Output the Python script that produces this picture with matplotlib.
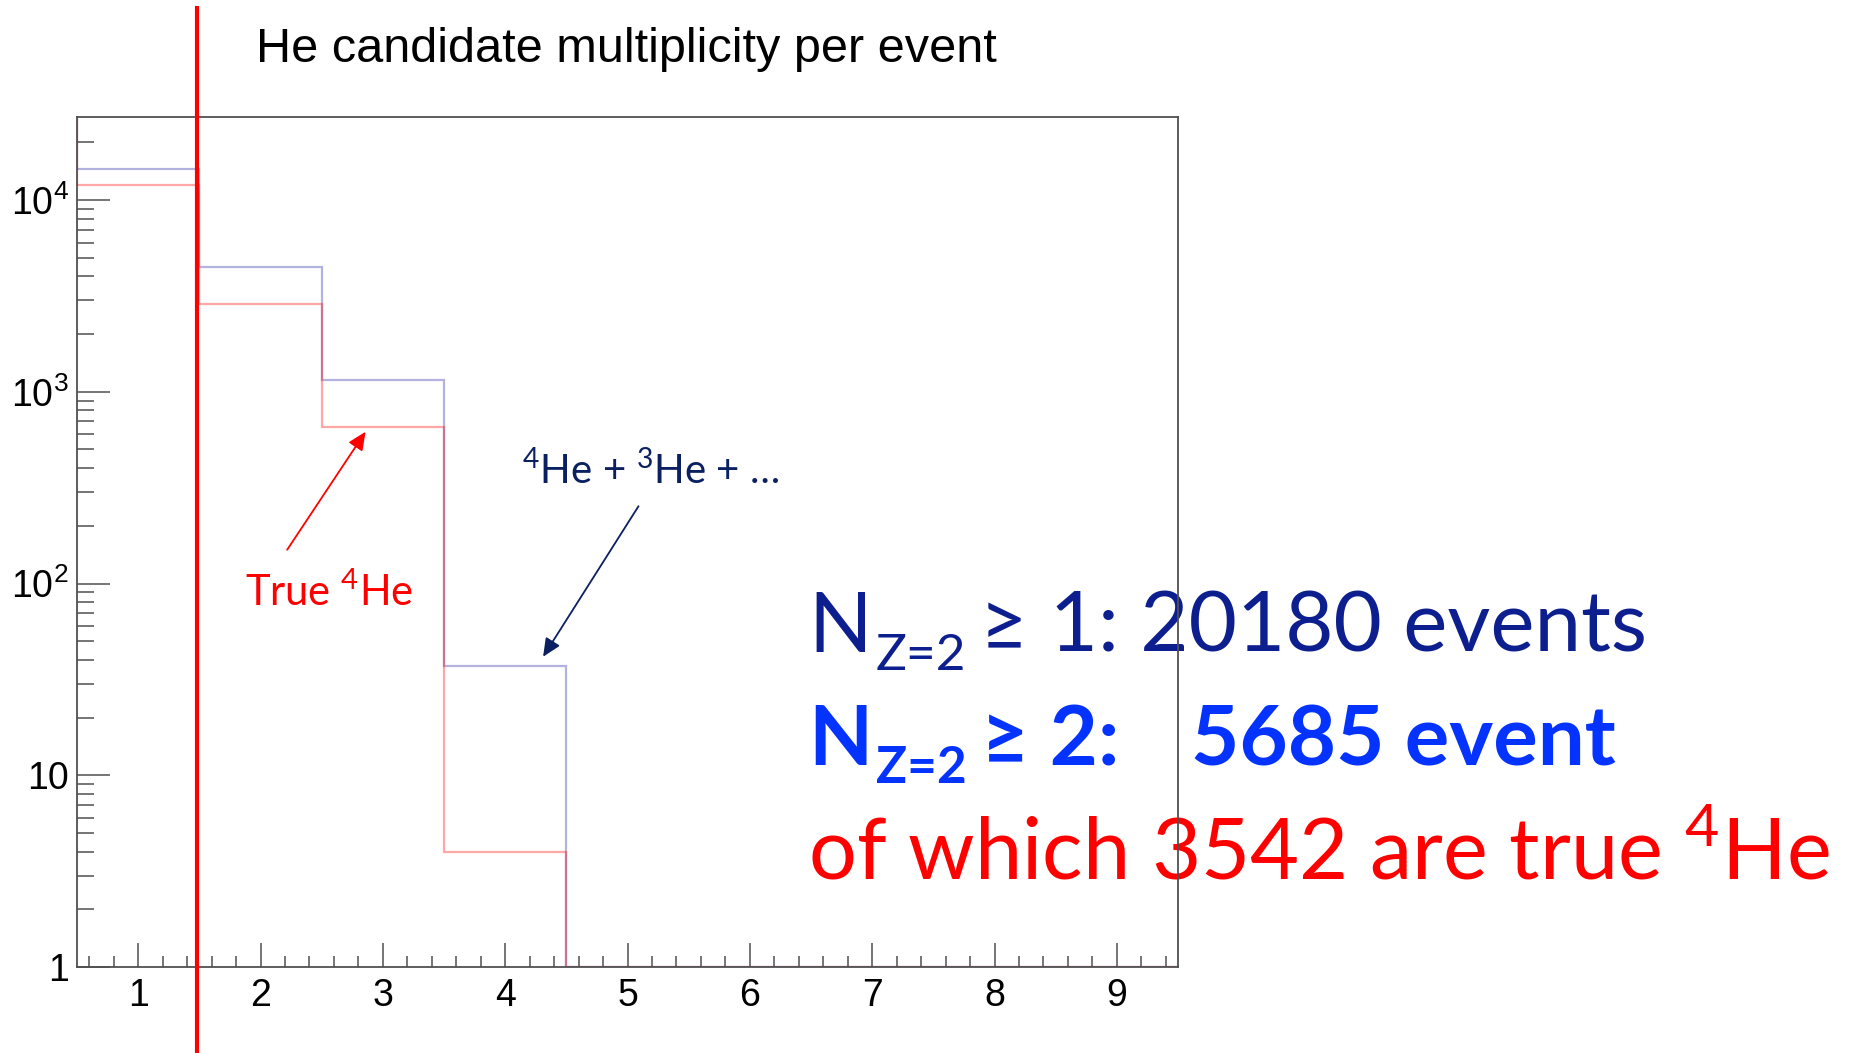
import numpy as np
import matplotlib
matplotlib.use("Agg")
import matplotlib.pyplot as plt
from matplotlib.ticker import FixedLocator, LogLocator, NullFormatter, MultipleLocator
from matplotlib.lines import Line2D
from matplotlib import transforms

plt.rcParams["font.family"] = ["Liberation Sans", "DejaVu Sans"]
plt.rcParams["mathtext.fontset"] = "custom"
plt.rcParams["mathtext.rm"] = "Lato"
plt.rcParams["mathtext.bf"] = "Lato:bold"
plt.rcParams["mathtext.sf"] = "Liberation Sans"

# He candidate multiplicity per event
multiplicity = [1, 2, 3, 4, 5, 6, 7, 8, 9]
all_he = [14495, 4490, 1158, 37, 0, 0, 0, 0, 0]      # 4He + 3He + ...
true_he4 = [12000, 2882, 656, 4, 0, 0, 0, 0, 0]      # true 4He

y_ticks = [1, 10, 100, 1000, 10000]
y_tick_labels = ["1", "10", r"$\mathsf{10^{2}}$", r"$\mathsf{10^{3}}$", r"$\mathsf{10^{4}}$"]

n_ge1 = 20180
n_ge2 = 5685
n_ge2_true = 3542

W, H = 1875, 1053
fig = plt.figure(figsize=(W / 100, H / 100), dpi=100)
fig.patch.set_facecolor("white")
renderer = fig.canvas.get_renderer()


def fp(x, y):
    """pixel position (from top-left) -> figure fraction"""
    return x / W, 1 - y / H


def text_run(x, y, pieces, **common):
    """Draw text pieces one after another on a shared baseline.
    Each piece: (string, fontsize, baseline shift in px (down), gap before in px, extra kwargs)."""
    for s, size, dy, gap, kw in pieces:
        x += gap
        t = fig.text(*fp(x, y + dy), s, fontsize=size, va="baseline", ha="left",
                     **common, **kw)
        x += t.get_window_extent(renderer).width


ax = fig.add_axes([77 / W, 1 - 967 / H, (1178 - 77) / W, (967 - 117) / H])
ax.patch.set_alpha(0)

ymin, ymax = 1, 27100
edges = np.concatenate([np.array(multiplicity) - 0.5, [multiplicity[-1] + 0.5]])

for vals, col, z in [(all_he, (0, 0, 0.6, 0.30), 2), (true_he4, (1, 0, 0, 0.35), 3)]:
    v = np.where(np.array(vals) > 0, vals, ymin).astype(float)
    ax.stairs(v, edges, baseline=None, color=col, lw=1.6, zorder=z)
    ax.plot([edges[0], edges[0]], [ymax * 2, v[0]], color=col, lw=1.6, zorder=z)

ax.set_xlim(0.5, 9.5)
ax.set_yscale("log")
ax.set_ylim(ymin, ymax)

frame_col = "#505050"
for s in ax.spines.values():
    s.set_color(frame_col)
    s.set_linewidth(1.3)
    s.set_zorder(5)

ax.xaxis.set_major_locator(MultipleLocator(1))
ax.xaxis.set_minor_locator(MultipleLocator(0.2))
ax.yaxis.set_major_locator(FixedLocator(y_ticks))
ax.set_yticklabels(y_tick_labels)
ax.yaxis.set_minor_locator(LogLocator(base=10, subs=np.arange(2, 10)))
ax.yaxis.set_minor_formatter(NullFormatter())

ax.tick_params(axis="both", which="both", direction="in", color=frame_col, width=1.1,
               labelsize=27, labelcolor="black")
ax.tick_params(axis="y", which="major", length=24, pad=6)
ax.tick_params(axis="y", which="minor", length=12)
ax.tick_params(axis="x", which="major", length=17, pad=8)
ax.tick_params(axis="x", which="minor", length=8)

# title
fig.text(*fp(256, 62), "He candidate multiplicity per event", fontsize=35,
         family="Liberation Sans", va="baseline", ha="left")

# vertical cut line
blend = transforms.blended_transform_factory(ax.transData, fig.transFigure)
fig.add_artist(Line2D([1.483, 1.483], [0, 1 - 8 / H], transform=blend,
                      color="#ff0000", lw=3.0, zorder=6))

# annotations
fig.text(*fp(245, 606), r"True $^{4}$He", fontsize=30, family="Lato",
         color="#ff0000", va="baseline", ha="left")
ax.annotate("", xy=(2.859, 619), xytext=(2.218, 150), xycoords="data",
            arrowprops=dict(arrowstyle="-|>,head_length=0.55,head_width=0.25",
                            color="#ff0000", lw=1.3, shrinkA=0, shrinkB=0,
                            mutation_scale=20))

navy = "#0a2060"
fig.text(*fp(522, 484), r"$^{4}$He + $^{3}$He + …", fontsize=29, family="Lato",
         color=navy, va="baseline", ha="left")
ax.annotate("", xy=(4.31, 41.5), xytext=(5.09, 253), xycoords="data",
            arrowprops=dict(arrowstyle="-|>,head_length=0.55,head_width=0.25",
                            color=navy, lw=1.3, shrinkA=0, shrinkB=0,
                            mutation_scale=20))

# event counts
text_run(808, 652, [
    ("N", 60, 0, 0, {}),
    ("Z=2", 37, 18, 4, {}),
    ("≥ 1: " + f"{n_ge1} events", 60, 0, 14, {}),
], family=["Lato", "DejaVu Sans"], color="#0d1f8f", zorder=-1)

text_run(808, 765, [
    ("N", 60, 0, 0, {}),
    ("Z=2", 37, 18, 4, {}),
    ("≥ 2:", 60, 0, 14, {}),
    (f"{n_ge2} event", 60, 0, 72, {}),
], family=["Lato", "DejaVu Sans"], weight="bold", color="#0433ff", zorder=-1)

fig.text(*fp(808, 879), f"of which {n_ge2_true} are true " + r"$^{4}$He",
         fontsize=61, family="Lato", color="#ff0000", va="baseline", ha="left",
         zorder=-1)

fig.savefig("out.png", dpi=100, facecolor="white")
